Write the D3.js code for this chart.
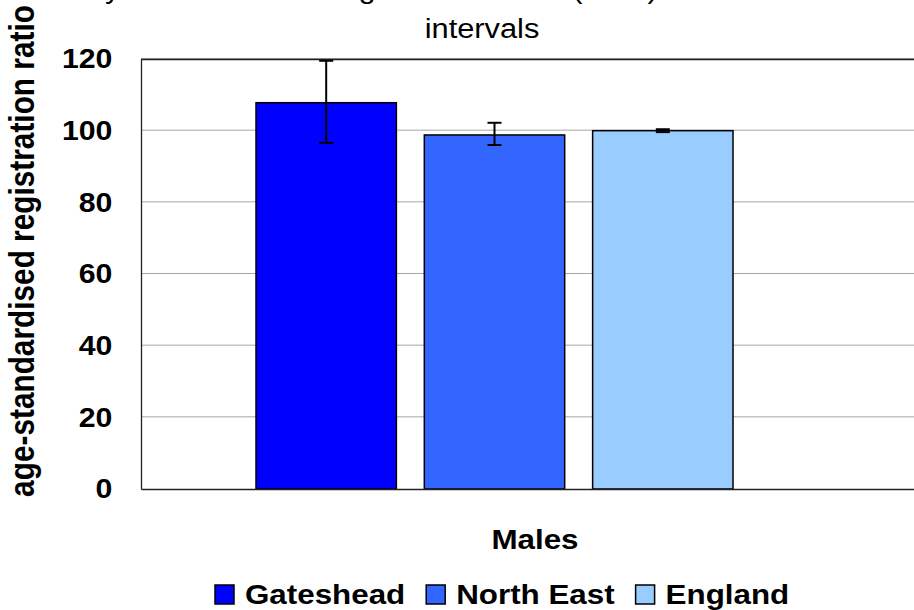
<!DOCTYPE html>
<html>
<head>
<meta charset="utf-8">
<script src="https://cdn.jsdelivr.net/npm/d3@7"></script>
<style>
  html, body { margin: 0; padding: 0; background: #fff; }
  svg { display: block; font-family: "Liberation Sans", Arial, sans-serif; }
</style>
</head>
<body>
<svg id="chart" width="914" height="610"></svg>
<script>
// ---- data ----
const categories = ["Males"];
const series = ["Gateshead", "North East", "England"];
const values = [107.8, 98.8, 100.0];
const lowerCI = [96.6, 96.0, 99.6];
const upperCI = [119.5, 102.2, 100.4];
const colors = ["#0000FF", "#3366FF", "#99CCFF"];
const yTicks = [0, 20, 40, 60, 80, 100, 120];
const titleLines = ["by Standardised Registration Ratio (SRR) with 95% confidence", "intervals"];
const yTitle = "age-standardised registration ratio";

// ---- layout ----
const W = 914, H = 610;
const plot = { left: 141, right: 914, top: 59, bottom: 489 };
const SX = 1.1; // horizontal glyph stretch seen in the reference

const svg = d3.select("#chart");

const y = d3.scaleLinear().domain([0, 120]).range([plot.bottom, plot.top]);
const x = d3.scaleBand().domain(series).range([256, 733]).paddingInner(0.166).paddingOuter(0);

// gridlines
svg.append("g").selectAll("line").data(yTicks.filter(d => d > 0)).join("line")
  .attr("x1", plot.left).attr("x2", plot.right)
  .attr("y1", d => y(d) - 0.5).attr("y2", d => y(d) - 0.5)
  .attr("stroke", "#a6a6a6").attr("stroke-width", 1);

// plot border top
svg.append("line").attr("x1", plot.left).attr("x2", plot.right)
  .attr("y1", plot.top + 0.5).attr("y2", plot.top + 0.5)
  .attr("stroke", "#222").attr("stroke-width", 1.3);

// bars
svg.append("g").selectAll("rect").data(series).join("rect")
  .attr("x", d => x(d))
  .attr("y", (d, i) => y(values[i]))
  .attr("width", x.bandwidth())
  .attr("height", (d, i) => y(0) - y(values[i]))
  .attr("fill", (d, i) => colors[i])
  .attr("stroke", "#000").attr("stroke-width", 1.5);

// error bars
const eg = svg.append("g").attr("stroke", "#000").attr("stroke-width", 2);
series.forEach((s, i) => {
  const cx = x(s) + x.bandwidth() / 2;
  eg.append("line").attr("x1", cx).attr("x2", cx).attr("y1", y(lowerCI[i])).attr("y2", y(upperCI[i]));
  eg.append("line").attr("x1", cx - 7).attr("x2", cx + 7).attr("y1", y(lowerCI[i])).attr("y2", y(lowerCI[i]));
  eg.append("line").attr("x1", cx - 7).attr("x2", cx + 7).attr("y1", y(upperCI[i])).attr("y2", y(upperCI[i]));
});

// y axis
const yAxis = svg.append("g").attr("transform", `translate(${plot.left},0)`)
  .call(d3.axisLeft(y).tickValues(yTicks).tickSize(0).tickPadding(26).tickFormat(d3.format("d")));
yAxis.select(".domain").attr("stroke", "#222").attr("stroke-width", 1.3);
yAxis.selectAll("text")
  .attr("font-size", 27.5).attr("font-weight", "bold").attr("fill", "#000")
  .attr("font-family", "Liberation Sans, Arial, sans-serif")
  .attr("transform", `scale(${SX},1)`);

// x axis
const xCat = d3.scaleBand().domain(categories).range([plot.left, plot.right]);
const xAxis = svg.append("g").attr("transform", `translate(0,${plot.bottom})`)
  .call(d3.axisBottom(xCat).tickSize(0).tickFormat(""));
xAxis.select(".domain").attr("stroke", "#222").attr("stroke-width", 1.3);

// category label
svg.append("text").attr("transform", `translate(535,549) scale(${SX},1)`)
  .attr("text-anchor", "middle").attr("font-size", 28.5).attr("font-weight", "bold")
  .text(categories[0]);

// y title
svg.append("text").attr("transform", `translate(34,251) scale(1.15,1) rotate(-90)`)
  .attr("text-anchor", "middle").attr("font-size", 29.8).attr("font-weight", "bold")
  .text(yTitle);

// chart title (first line cut off at the top, as in the reference)
svg.append("text").attr("transform", `translate(88,-2) scale(${SX},1)`)
  .attr("font-size", 28).text(titleLines[0]);
svg.append("text").attr("transform", `translate(482,38) scale(${SX},1)`)
  .attr("text-anchor", "middle").attr("font-size", 28).text(titleLines[1]);

// legend
const lg = svg.append("g");
let lx = 215;
series.forEach((s, i) => {
  lg.append("rect").attr("x", lx).attr("y", 585).attr("width", 19).attr("height", 19)
    .attr("fill", colors[i]).attr("stroke", "#000").attr("stroke-width", 1.5);
  const t = lg.append("text").attr("transform", `translate(${lx + 30},603.5) scale(${SX},1)`)
    .attr("font-size", 28.5).attr("font-weight", "bold").text(s);
  lx = lx + 30 + t.node().getComputedTextLength() * SX + 21;
});
</script>
</body>
</html>
